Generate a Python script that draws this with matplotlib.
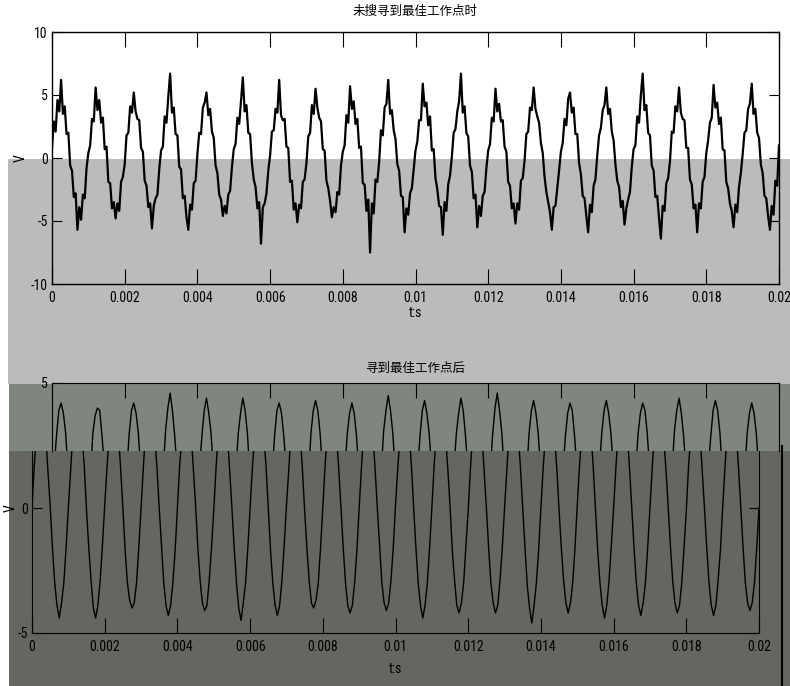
import numpy as np
import matplotlib
matplotlib.use("Agg")
import matplotlib.pyplot as plt
from matplotlib import font_manager
from matplotlib.patches import Rectangle

# narrow latin font if one is installed, CJK for the titles
names = {f.name for f in font_manager.fontManager.ttflist}
narrow = [n for n in ["Liberation Sans Narrow", "DejaVu Sans Condensed", "Roboto Condensed"] if n in names]
plt.rcParams['font.family'] = narrow + ['DejaVu Sans', 'Noto Sans CJK SC']
plt.rcParams['font.stretch'] = 'condensed'
plt.rcParams['axes.unicode_minus'] = False
cjk = ['Noto Sans CJK SC', 'DejaVu Sans']

# ---- data ----
title_top = "未搜寻到最佳工作点时"
title_bot = "寻到最佳工作点后"
xlabel = "t:s"
ylabel = "V"
xticks = [0, 0.002, 0.004, 0.006, 0.008, 0.01, 0.012, 0.014, 0.016, 0.018, 0.02]
xticklabels = ["0", "0.002", "0.004", "0.006", "0.008", "0.01", "0.012", "0.014", "0.016", "0.018", "0.02"]
yticks_top = [-10, -5, 0, 5, 10]

# top signal, 20 samples per 1 ms cycle (step 0.05 ms)
dt_top = 0.00005
v_top = [
    0.8, 2.9, 2.1, 4.6, 3.7, 6.2, 3.5, 4.1, 1.9, 2.0, -0.6, -1.0, -3.1, -2.8, -5.7, -3.9, -4.9, -2.9, -3.2, -0.8,
    0.4, 1.0, 3.1, 2.9, 5.6, 3.8, 4.6, 2.8, 3.2, 0.7, 0.9, -1.9, -2.0, -4.0, -3.5, -4.8, -3.6, -4.2, -1.9, -1.5,
    -0.5, 1.8, 2.0, 4.1, 3.6, 5.2, 3.7, 3.1, 3.0, 0.8, 0.5, -1.8, -2.2, -3.9, -3.6, -5.6, -3.8, -3.2, -2.9, -0.9,
    0.6, 0.9, 3.3, 2.8, 4.9, 6.7, 3.6, 4.0, 1.9, 1.8, -0.7, -0.9, -3.2, -3.0, -4.7, -5.7, -3.7, -4.1, -2.0, -1.8,
    0.3, 2.0, 1.9, 4.0, 4.4, 5.2, 3.4, 3.9, 2.1, 1.6, -0.6, -1.2, -2.9, -3.3, -4.6, -3.8, -4.4, -2.9, -2.6, -0.7,
    0.7, 1.1, 3.2, 2.7, 4.6, 6.4, 3.7, 4.2, 2.0, 1.9, -0.4, -1.7, -2.3, -4.0, -3.5, -6.8, -3.9, -3.6, -2.8, -1.0,
    0.2, 2.1, 2.2, 3.9, 3.6, 6.2, 3.4, 3.0, 3.1, 0.9, 0.8, -1.9, -1.8, -4.1, -3.6, -5.1, -3.7, -4.0, -1.9, -1.7,
    -0.4, 1.7, 2.0, 4.2, 3.5, 5.5, 4.0, 3.2, 2.9, 0.7, 0.6, -1.8, -2.4, -3.4, -4.7, -3.9, -4.3, -2.7, -2.9, -0.6,
    0.5, 1.0, 3.4, 2.8, 5.7, 3.9, 4.5, 2.7, 3.1, 0.8, 0.9, -2.0, -2.1, -4.2, -3.3, -7.5, -3.6, -4.4, -1.7, -1.9,
    -0.3, 2.2, 1.8, 4.0, 4.3, 6.2, 3.5, 3.8, 2.2, 1.5, -0.5, -1.0, -3.0, -3.1, -5.9, -4.0, -4.5, -2.8, -2.4, -0.9,
    0.6, 1.3, 3.0, 3.0, 5.9, 4.1, 4.4, 2.6, 3.3, 0.6, 0.7, -1.6, -2.5, -3.8, -3.9, -6.1, -3.5, -4.2, -2.1, -1.4,
    0.1, 2.0, 2.3, 3.7, 4.5, 6.7, 3.6, 4.1, 2.0, 1.7, -0.6, -1.1, -3.2, -2.9, -5.5, -3.8, -4.6, -3.0, -2.7, -0.8,
    0.6, 1.1, 3.2, 2.9, 5.5, 3.7, 4.3, 2.9, 3.0, 0.9, 0.5, -1.9, -2.2, -4.0, -3.6, -5.2, -3.6, -4.1, -1.8, -1.6,
    -0.2, 1.9, 2.1, 4.0, 3.8, 5.6, 3.9, 3.3, 2.8, 1.2, 0.4, -1.5, -2.7, -3.5, -4.3, -5.7, -3.9, -3.8, -2.4, -1.0,
    0.5, 1.2, 3.1, 2.6, 4.7, 5.2, 3.6, 4.0, 1.9, 1.9, -0.4, -1.3, -3.0, -3.2, -4.6, -5.9, -3.7, -4.3, -2.2, -1.7,
    0.2, 1.8, 2.4, 3.8, 4.2, 5.6, 3.5, 3.9, 2.1, 1.4, -0.5, -1.8, -2.3, -3.9, -3.4, -5.3, -4.0, -3.3, -2.7, -0.7,
    0.7, 1.0, 3.3, 2.8, 5.0, 6.7, 3.8, 4.2, 2.0, 1.8, -0.6, -1.0, -3.1, -3.0, -4.8, -6.4, -3.8, -4.2, -2.0, -1.6,
    -0.3, 2.1, 2.0, 4.1, 3.7, 5.6, 3.6, 3.1, 3.0, 0.8, 0.8, -1.7, -2.1, -4.0, -3.7, -5.9, -3.6, -4.0, -1.9, -1.5,
    0.4, 1.4, 2.8, 3.2, 5.8, 4.0, 4.4, 2.7, 3.2, 0.7, 0.6, -1.9, -2.4, -3.6, -4.2, -5.5, -3.7, -4.3, -2.3, -1.2,
    0.3, 2.0, 2.2, 3.9, 4.3, 5.9, 3.5, 3.9, 2.0, 1.6, -0.5, -1.2, -3.0, -3.2, -4.6, -5.7, -3.8, -4.5, -1.8, -2.2,
    1.0,
]

# bottom signal, 16 samples per 1 ms cycle (step 0.0625 ms)
dt_bot = 0.0000625
v_bot = [
    0.0, 1.7, 2.9, 3.9, 4.2, 3.8, 3.0, 1.5, 0.1, -1.6, -3.0, -3.9, -4.4, -3.8, -3.0, -1.6,
    0.0, 1.5, 3.0, 3.7, 4.0, 3.9, 2.9, 1.7, -0.1, -1.6, -2.9, -4.0, -4.4, -3.9, -2.9, -1.5,
    0.1, 1.6, 3.0, 3.9, 4.2, 3.8, 3.0, 1.6, 0.0, -1.7, -3.0, -3.7, -4.0, -3.8, -3.0, -1.6,
    0.0, 1.6, 3.1, 4.0, 4.6, 3.9, 2.9, 1.6, 0.0, -1.5, -3.0, -3.9, -4.3, -3.9, -3.0, -1.7,
    0.0, 1.7, 2.9, 3.9, 4.4, 3.8, 3.0, 1.6, 0.1, -1.6, -2.9, -3.8, -4.1, -3.9, -2.9, -1.6,
    -0.1, 1.6, 3.0, 3.8, 4.4, 3.9, 3.0, 1.5, 0.0, -1.6, -3.0, -4.0, -4.5, -3.8, -3.0, -1.6,
    0.0, 1.6, 2.9, 3.9, 4.2, 3.8, 2.9, 1.7, 0.0, -1.7, -3.0, -3.9, -4.3, -3.9, -2.9, -1.5,
    0.1, 1.5, 3.0, 3.9, 4.3, 3.9, 3.0, 1.6, -0.1, -1.6, -2.9, -3.8, -4.0, -3.7, -3.0, -1.6,
    0.0, 1.7, 3.0, 3.8, 4.2, 3.8, 2.9, 1.6, 0.0, -1.6, -3.0, -3.9, -4.2, -3.9, -3.0, -1.7,
    0.0, 1.6, 3.1, 3.9, 4.5, 3.9, 3.0, 1.6, 0.0, -1.5, -3.0, -3.8, -4.1, -3.8, -2.9, -1.6,
    0.1, 1.6, 2.9, 3.9, 4.3, 3.8, 3.0, 1.7, 0.0, -1.6, -3.0, -3.9, -4.4, -3.9, -3.0, -1.6,
    0.0, 1.7, 3.0, 3.8, 4.4, 3.9, 2.9, 1.6, 0.1, -1.7, -2.9, -3.9, -4.2, -3.8, -3.0, -1.5,
    -0.1, 1.6, 3.0, 4.0, 4.6, 3.9, 3.0, 1.5, 0.0, -1.6, -3.0, -3.8, -4.2, -3.9, -2.9, -1.6,
    0.0, 1.5, 3.0, 3.9, 4.3, 3.8, 3.0, 1.6, 0.0, -1.6, -3.1, -4.0, -4.6, -3.9, -3.0, -1.7,
    0.0, 1.6, 2.9, 3.8, 4.2, 3.9, 2.9, 1.6, -0.1, -1.6, -2.9, -3.8, -4.2, -3.8, -3.0, -1.6,
    0.1, 1.7, 3.0, 3.9, 4.3, 3.8, 3.0, 1.7, 0.0, -1.7, -3.0, -3.9, -4.4, -3.9, -2.9, -1.5,
    0.0, 1.6, 3.0, 3.8, 4.2, 3.9, 3.0, 1.6, 0.0, -1.6, -3.0, -3.9, -4.3, -3.8, -3.0, -1.6,
    0.0, 1.6, 3.1, 3.9, 4.4, 3.8, 2.9, 1.6, 0.1, -1.5, -2.9, -3.8, -4.2, -3.9, -3.0, -1.6,
    -0.1, 1.7, 2.9, 3.9, 4.3, 3.9, 3.0, 1.5, 0.0, -1.6, -3.0, -3.9, -4.3, -3.9, -2.9, -1.7,
    0.0, 1.6, 3.0, 3.8, 4.2, 3.8, 3.0, 1.6, 0.0, -1.6, -3.0, -3.8, -4.1, -3.8, -3.0, -1.6,
    0.0,
]

t_top = np.arange(len(v_top)) * dt_top
t_bot = np.arange(len(v_bot)) * dt_bot

# ---- figure ----
W, H = 790, 686
fig = plt.figure(figsize=(W / 100, H / 100), dpi=100)
fig.patch.set_facecolor("white")


def px_rect(x0, y0, x1, y1):
    # pixel box (y from top) -> figure fraction rect
    return [x0 / W, 1 - y1 / H, (x1 - x0) / W, (y1 - y0) / H]


def bg(x0, y0, x1, y1, color):
    r = px_rect(x0, y0, x1, y1)
    fig.add_artist(Rectangle((r[0], r[1]), r[2], r[3], transform=fig.transFigure,
                             facecolor=color, edgecolor="none", zorder=-10))


bg(8, 159, 790, 384, "#bbbbbb")
bg(9, 384, 790, 451, "#80867d")
bg(9, 451, 790, 686, "#63675f")
fig.add_artist(plt.Line2D([782 / W, 782 / W], [0, 1 - 446 / H], transform=fig.transFigure,
                          color="black", lw=1.5, zorder=5))

tick_kw = dict(direction="in", colors="black", labelsize=10, width=0.8)

# top panel
ax1 = fig.add_axes(px_rect(52, 32, 779, 284))
ax1.set_facecolor("none")
ax1.plot(t_top, v_top, color="black", lw=1.6)
ax1.set_xlim(0, 0.02)
ax1.set_ylim(-10, 10)
ax1.set_xticks(xticks)
ax1.set_xticklabels(xticklabels)
ax1.set_yticks(yticks_top)
ax1.tick_params(axis="x", top=True, length=11, pad=5, **tick_kw)
ax1.tick_params(axis="y", right=True, length=7, pad=3, **tick_kw)
ax1.set_xlabel(xlabel, fontsize=10, labelpad=1)
ax1.set_ylabel(ylabel, fontsize=10)
ax1.yaxis.set_label_coords(-0.034, 0.5)
ax1.set_title(title_top, fontsize=9, pad=12, family=cjk)
for s in ax1.spines.values():
    s.set_linewidth(1)

# bottom panel, lower part
ax2 = fig.add_axes(px_rect(32, 451, 759, 633))
ax2.set_facecolor("none")
ax2.plot(t_bot, v_bot, color="black", lw=1.0)
ax2.set_xlim(0, 0.02)
ax2.set_ylim(-5, 5 - 68 / 25)
ax2.set_xticks(xticks)
ax2.set_xticklabels(xticklabels)
ax2.set_yticks([-5, 0])
ax2.spines["top"].set_visible(False)
ax2.tick_params(axis="x", length=11, pad=5, **tick_kw)
ax2.tick_params(axis="y", right=True, length=7, pad=3, **tick_kw)
ax2.set_xlabel(xlabel, fontsize=10, labelpad=6)
ax2.set_ylabel(ylabel, fontsize=10)
ax2.yaxis.set_label_coords(-0.02, (633 - 508) / 182)

# bottom panel, upper strip
ax3 = fig.add_axes(px_rect(52, 383, 779, 451))
ax3.set_facecolor("none")
ax3.plot(t_bot, v_bot, color="black", lw=1.0)
ax3.set_xlim(0, 0.02)
ax3.set_ylim(5 - 68 / 25, 5)
ax3.set_xticks(xticks)
ax3.set_xticklabels([])
ax3.set_yticks([5])
ax3.spines["bottom"].set_visible(False)
ax3.tick_params(axis="x", bottom=False, top=True, length=11, **tick_kw)
ax3.tick_params(axis="y", length=7, pad=3, **tick_kw)
ax3.set_title(title_bot, fontsize=9, pad=8, family=cjk)

fig.savefig("out.png", dpi=100)
